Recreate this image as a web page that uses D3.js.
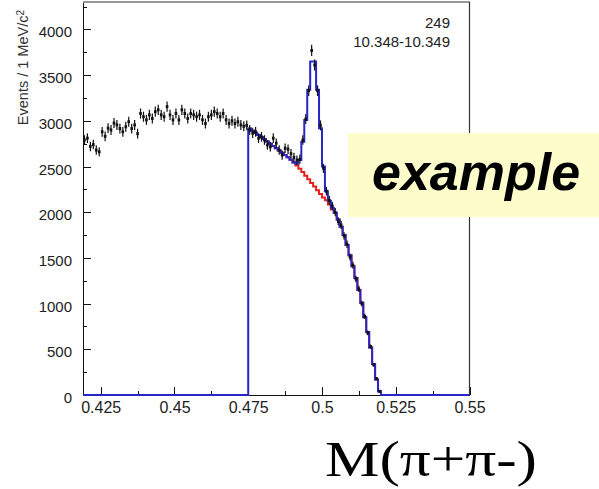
<!DOCTYPE html>
<meta charset="utf-8">
<head>
<style>
  body { margin: 0; background: #fff; }
  .axis text { font: 15px "Liberation Sans", Arial, sans-serif; fill: #222; }
  .axis path, .axis line { fill: none; stroke: #111; shape-rendering: crispEdges; }
  .axis .domain { stroke-width: 1.5; }
</style>
</head>
<body>
<script src="https://d3js.org/d3.v7.min.js"></script>
<script>

// histogram binning: 1 MeV bins starting at 0.419
var binStart = 0.419;
var binWidth = 0.001;

// data counts per bin, 0.419 .. 0.519
var dataCounts = [
  2790,2810,2720,2740,2680,2660,2880,2830,2920,2900,2975,2955,2915,2880,2935,2990,2915,2955,2860,3080,3045,3010,3065,3025,3100,3120,3065,3045,
  3155,3065,3010,3080,3010,3120,3080,3025,3080,3065,3045,3065,3010,2970,3045,3065,3100,3080,3045,3080,3010,2970,3000,2970,2990,2955,2940,2950,
  2900,2865,2880,2810,2825,2790,2735,2715,2810,2755,2680,2625,2700,2690,2640,2600,2570,
  2580,2790,3020,3330,3770,3610,3330,2950,2480,2230,2130,2070,2000,1900,1860,1740,1650,1510,1420,1270,1160,1000,860,680,530,330,180,40
];

// fit range starts at 0.475, 45 bins
var fitStart = 0.475;
var bkgCounts = [
  2915,2890,2870,2845,2820,2800,2775,2750,2725,2700,2675,2650,2625,2600,2575,2545,
  2510,2475,2440,2400,2360,2320,2280,2240,2200,2160,2130,2085,2030,1990,
  1920,1840,1750,1640,1530,1410,1280,1150,1010,850,690,520,340,170,40
];
var fitCounts = [
  2915,2890,2870,2845,2820,2800,2775,2750,2725,2700,2675,2650,2625,2600,2575,2545,
  2530,2570,2770,3010,3340,3650,3650,3340,2920,2500,2230,2125,2050,1995,
  1920,1840,1750,1640,1530,1410,1280,1150,1010,850,690,520,340,170,40
];

var xTicks = [0.425, 0.45, 0.475, 0.5, 0.525, 0.55];
var xTickLabels = ["0.425", "0.45", "0.475", "0.5", "0.525", "0.55"];
var yTicks = [0, 500, 1000, 1500, 2000, 2500, 3000, 3500, 4000];

var width = 599, height = 489;
var plot = {left: 83, right: 469.5, top: 2, bottom: 395};

var x = d3.scaleLinear().domain([0.419, 0.55]).range([plot.left, plot.right]);
var y = d3.scaleLinear().domain([0, 4300]).range([plot.bottom, plot.top]);

var svg = d3.select("body").append("svg")
    .attr("width", width)
    .attr("height", height);

// frame (top + right)
svg.append("path")
    .attr("d", "M" + plot.left + "," + plot.top + "H" + plot.right + "V" + plot.bottom)
    .attr("fill", "none")
    .attr("stroke", "#333")
    .attr("stroke-width", 1.2);

// minor ticks
var xMinor = d3.range(0.4375, 0.55, 0.025);
svg.append("g")
    .attr("class", "axis")
    .attr("transform", "translate(0," + plot.bottom + ")")
    .call(d3.axisBottom(x).tickValues(xMinor).tickSize(-4).tickFormat(""))
    .select(".domain").remove();
svg.append("g")
    .attr("class", "axis")
    .attr("transform", "translate(" + plot.left + ",0)")
    .call(d3.axisLeft(y).tickValues(d3.range(250, 4300, 500)).tickSize(-4).tickFormat(""))
    .select(".domain").remove();

// major axes
svg.append("g")
    .attr("class", "axis x")
    .attr("transform", "translate(0," + plot.bottom + ")")
    .call(d3.axisBottom(x).tickValues(xTicks).tickSize(-8).tickSizeOuter(0).tickPadding(7)
      .tickFormat(function(d, i) { return xTickLabels[i]; }))
  .selectAll("text")
    .style("font-size", "16px");

svg.append("g")
    .attr("class", "axis y")
    .attr("transform", "translate(" + plot.left + ",0)")
    .call(d3.axisLeft(y).tickValues(yTicks).tickSize(-8).tickSizeOuter(0).tickPadding(11)
      .tickFormat(d3.format("d")))
  .selectAll("text")
    .attr("dy", "0.5em");

// y title
var yt = svg.append("text")
    .attr("transform", "translate(28,10) rotate(-90)")
    .attr("text-anchor", "end")
    .style("font", "14.5px 'Liberation Sans', Arial, sans-serif")
    .style("fill", "#333")
    .text("Events / 1 MeV/c");
yt.append("tspan").attr("dy", "-0.4em").style("font-size", "10px").text("2");

// step paths
var step = d3.line()
    .x(function(d) { return x(d[0]); })
    .y(function(d) { return y(d[1]); })
    .curve(d3.curveStepAfter);

var redPts = bkgCounts.map(function(v, i) { return [fitStart + i * binWidth, v]; });
redPts.push([fitStart + bkgCounts.length * binWidth, 0]);

var bluePts = [[0.419, 0]];
fitCounts.forEach(function(v, i) { bluePts.push([fitStart + i * binWidth, v]); });
bluePts.push([fitStart + fitCounts.length * binWidth, 0]);
bluePts.push([0.55, 0]);

svg.append("path")
    .attr("d", step(redPts))
    .attr("fill", "none")
    .attr("stroke", "#e8201c")
    .attr("stroke-width", 2);

svg.append("path")
    .attr("d", step(bluePts))
    .attr("fill", "none")
    .attr("stroke", "#2727c8")
    .attr("stroke-width", 2);

// data points with error bars
var pts = svg.append("g").selectAll("g")
    .data(dataCounts)
  .enter().append("g")
    .attr("transform", function(d, i) { return "translate(" + x(binStart + (i + 0.5) * binWidth) + ",0)"; });

pts.append("line")
    .attr("y1", function(d) { return y(d + Math.sqrt(d)); })
    .attr("y2", function(d) { return y(d - Math.sqrt(d)); })
    .attr("stroke", "#111")
    .attr("stroke-width", 1.2);

pts.append("rect")
    .attr("x", -1.3)
    .attr("width", 2.6)
    .attr("y", function(d) { return y(d) - 1.5; })
    .attr("height", 3)
    .attr("fill", "#111");

// top right labels
svg.append("text")
    .attr("x", 450).attr("y", 28)
    .attr("text-anchor", "end")
    .style("font", "15px 'Liberation Sans', Arial, sans-serif")
    .style("fill", "#222")
    .text("249");
svg.append("text")
    .attr("x", 450).attr("y", 47)
    .attr("text-anchor", "end")
    .style("font", "15px 'Liberation Sans', Arial, sans-serif")
    .style("fill", "#222")
    .text("10.348-10.349");

// yellow "example" box
svg.append("rect")
    .attr("x", 348).attr("y", 133)
    .attr("width", 251).attr("height", 84)
    .attr("fill", "#fdfccb");
svg.append("text")
    .attr("x", 372).attr("y", 190)
    .style("font", "italic bold 52px 'Liberation Sans', Arial, sans-serif")
    .style("fill", "#000")
    .text("example");

// x title
svg.append("text")
    .attr("x", 325).attr("y", 476)
    .attr("textLength", 212)
    .attr("lengthAdjust", "spacingAndGlyphs")
    .style("font", "50px 'Liberation Serif', 'Times New Roman', serif")
    .style("fill", "#000")
    .text("M(\u03c0+\u03c0-)");

</script>
</body>
